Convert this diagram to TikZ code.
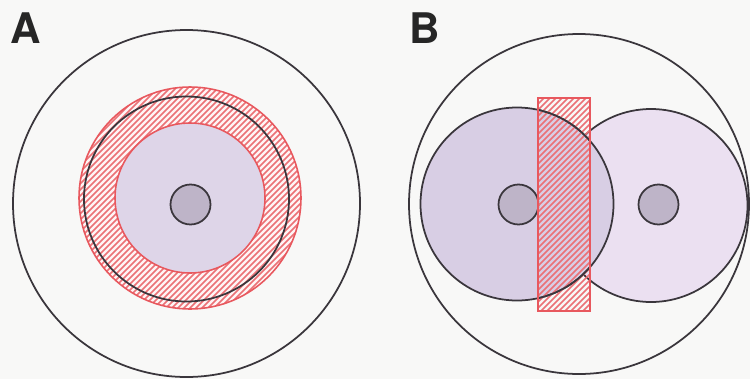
\documentclass[tikz,border=0pt]{standalone}
\usepackage{fontspec}
\setsansfont{TeX Gyre Heros}
\definecolor{paper}{RGB}{248,248,247}
\definecolor{cellA}{RGB}{222,213,232}
\definecolor{cellL}{RGB}{216,206,228}
\definecolor{cellR}{RGB}{235,224,241}
\definecolor{nuc}{RGB}{190,180,200}
\definecolor{hatch}{RGB}{232,88,94}
\definecolor{ink}{RGB}{58,54,60}
\begin{document}
\begin{tikzpicture}[
    x=0.02cm, y=-0.02cm,
    outline/.style={draw=ink, line width=1pt},
    redline/.style={draw=hatch, line width=0.9pt},
    stripe/.style={hatch!85!white, line width=0.85pt},
    panel/.style={font=\sffamily\bfseries\fontsize{24}{24}\selectfont,
                  inner sep=0pt, anchor=base west, text=black!85},
]
% Frame of the page
\fill[paper] (0,0) rectangle (750,379);
\useasboundingbox (0,0) rectangle (750,379);

% Centres
\coordinate (bodyA) at (186.5,203.5);
\coordinate (ringA) at (190,198);
\coordinate (cellA) at (186.5,199);
\coordinate (nucA) at (190.5,204.5);
\coordinate (bodyB) at (579,204);
\coordinate (cellL) at (517,204);
\coordinate (cellR) at (651,205.5);
\coordinate (nucL) at (518.5,204.5);
\coordinate (nucR) at (658.5,204.5);

% Panel labels
\node[panel] (labA) at (10,43) {A};
\node[panel] (labB) at (409,43) {B};

% Panel A: hatched ring round the cell
\fill[red!4!white] (ringA) circle[radius=111];
\begin{scope}
  \clip (ringA) circle[radius=111];
  \foreach \i in {-200,-194,...,330}
    \draw[stripe] (\i,320) -- ++(260,-260);
\end{scope}
\draw[redline, fill=cellA] (ringA) circle[radius=75];
\draw[redline] (ringA) circle[radius=111];
\draw[outline] (cellA) circle[radius=102.5];
\draw[outline, fill=nuc] (nucA) circle[radius=20];
\draw[outline] (bodyA) circle[radius=173.5];

% Panel B: two cells and the hatched strip
\draw[outline] (bodyB) circle[radius=170];
\draw[outline, fill=cellR] (cellR) circle[radius=96.5];
\draw[outline, fill=cellL] (cellL) circle[radius=96.5];
\draw[outline, fill=nuc] (nucL) circle[radius=20];
\draw[outline, fill=nuc] (nucR) circle[radius=20];
\begin{scope}
  \clip (538,98) rectangle (590,311);
  \foreach \i in {280,286,...,620}
    \draw[stripe] (\i,320) -- ++(260,-260);
  \draw[outline] (cellL) circle[radius=96.5];
\end{scope}
\draw[redline] (538,98) rectangle (590,311);

\end{tikzpicture}
\end{document}
